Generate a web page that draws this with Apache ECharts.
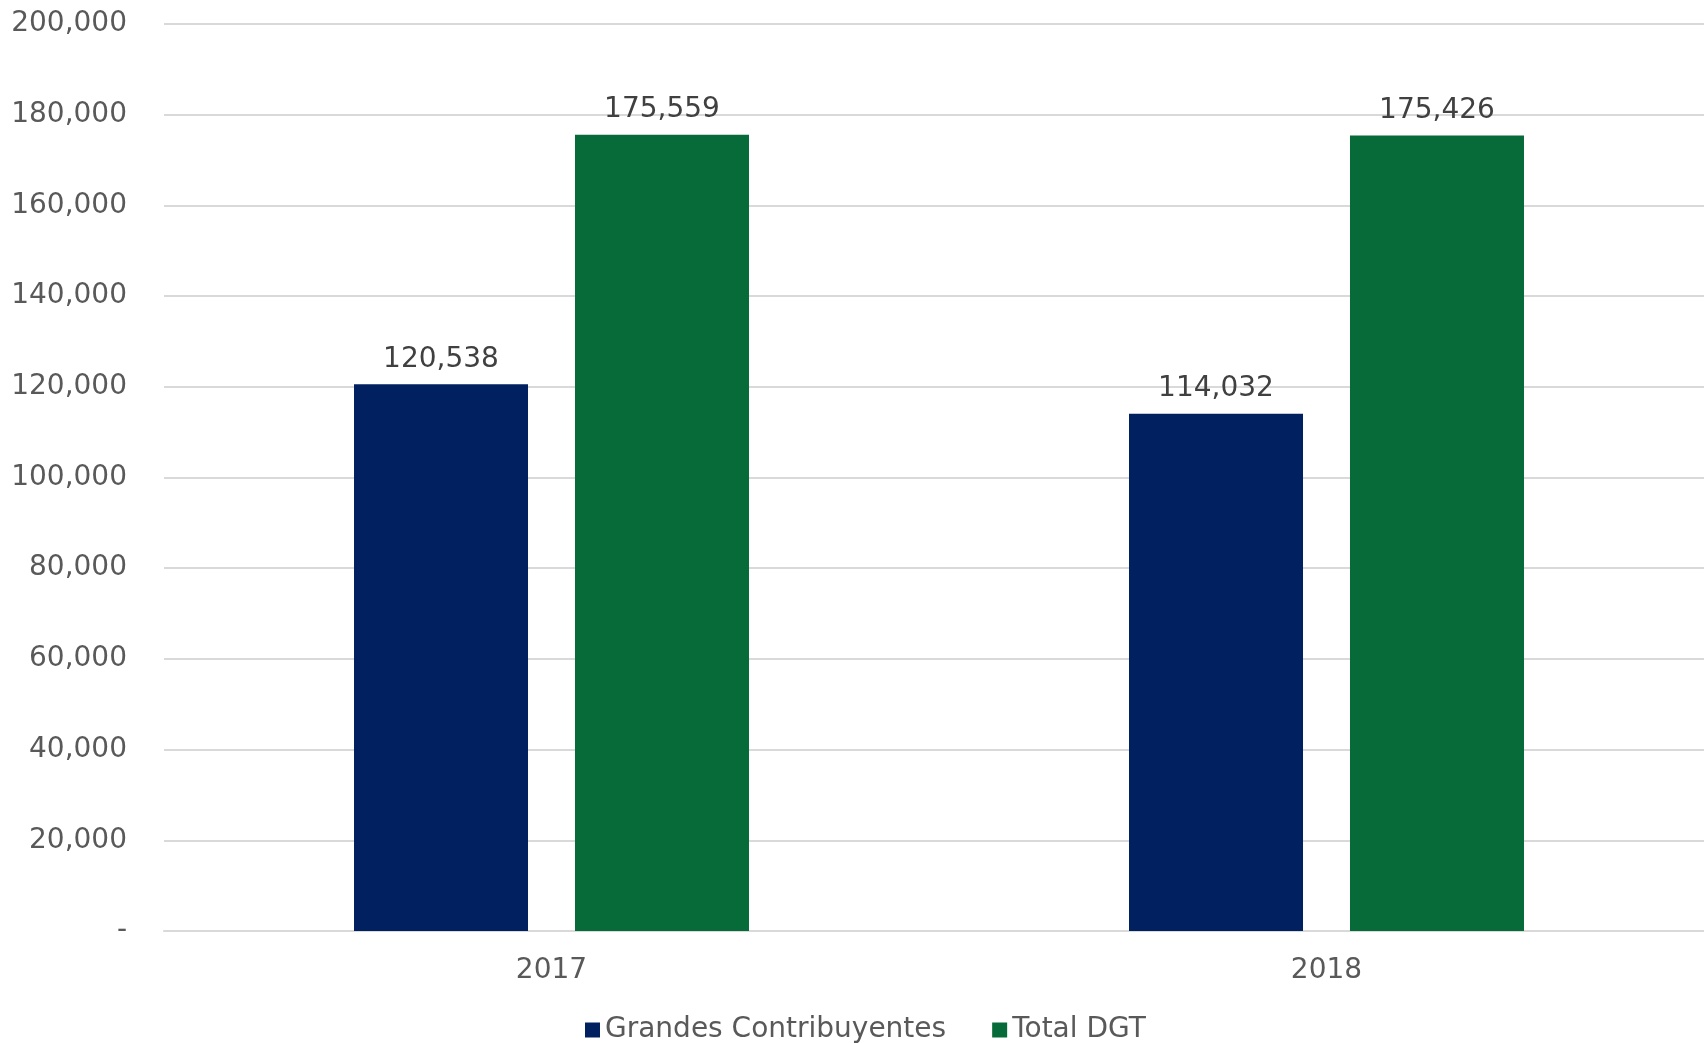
<!DOCTYPE html>
<html>
<head>
<meta charset="utf-8">
<script src="https://cdn.jsdelivr.net/npm/echarts@6/dist/echarts.min.js"></script>
<style>
html,body{margin:0;padding:0;background:#fff;}
#chart{width:1704px;height:1043px;}
</style>
</head>
<body>
<div id="chart"></div>
<script>
const categories = ['2017', '2018'];
const seriesNames = ['Grandes Contribuyentes', 'Total DGT'];
const grandesValues = [120538, 114032];
const totalValues = [175559, 175426];
const yTicks = { min: 0, max: 200000, interval: 20000 };

const FONT = 'DejaVu Sans';
const fmt = v => v === 0 ? '-' : v.toLocaleString('en-US');

const chart = echarts.init(document.getElementById('chart'), null, { renderer: 'canvas' });
chart.setOption({
  animation: false,
  backgroundColor: '#ffffff',
  textStyle: { fontFamily: FONT },
  grid: { left: 164, top: 24, width: 1550, height: 907, containLabel: false, outerBoundsMode: 'none' },
  legend: {
    left: 580, top: 1011, padding: 5,
    icon: 'rect', itemWidth: 15, itemHeight: 15, itemGap: 46,
    textStyle: { fontFamily: FONT, fontSize: 28, color: '#595959' },
    data: seriesNames
  },
  xAxis: {
    type: 'category',
    data: categories,
    axisLine: { show: true, lineStyle: { color: '#d9d9d9', width: 2 } },
    axisTick: { show: false },
    axisLabel: { fontFamily: FONT, fontSize: 28, color: '#595959', margin: 26 }
  },
  yAxis: {
    type: 'value',
    min: yTicks.min, max: yTicks.max, interval: yTicks.interval,
    axisLine: { show: false },
    axisTick: { show: false },
    splitLine: { lineStyle: { color: '#d9d9d9', width: 2 } },
    axisLabel: { fontFamily: FONT, fontSize: 28, color: '#595959', margin: 37, formatter: fmt }
  },
  series: [
    {
      name: seriesNames[0], type: 'bar', data: grandesValues,
      barWidth: 174, barGap: '27%',
      itemStyle: { color: '#002060' },
      label: { show: true, position: 'top', distance: 11, fontFamily: FONT, fontSize: 28, color: '#404040', formatter: p => fmt(p.value) }
    },
    {
      name: seriesNames[1], type: 'bar', data: totalValues,
      barWidth: 174,
      itemStyle: { color: '#066b38' },
      label: { show: true, position: 'top', distance: 11, fontFamily: FONT, fontSize: 28, color: '#404040', formatter: p => fmt(p.value) }
    }
  ]
});
</script>
</body>
</html>
